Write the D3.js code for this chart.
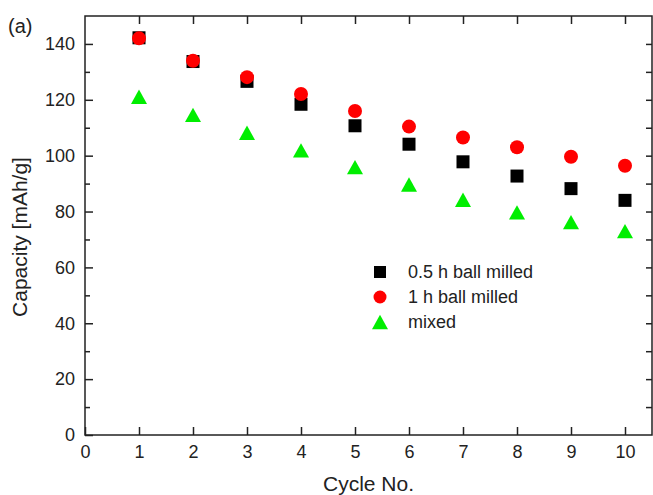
<!DOCTYPE html>
<html>
<head>
<meta charset="utf-8">
<script src="https://cdn.jsdelivr.net/npm/d3@7"></script>
<style>
  body { margin: 0; background: #fff; }
  text { font-family: "Liberation Sans", Arial, sans-serif; fill: #222; }
</style>
</head>
<body>
<div id="content"></div>
<script>
// data
var cycles = [1, 2, 3, 4, 5, 6, 7, 8, 9, 10];
var milled05 = [142.2, 133.7, 126.6, 118.4, 110.7, 104.1, 97.8, 92.7, 88.2, 84.0];
var milled1 = [142.0, 134.0, 128.1, 122.1, 116.0, 110.4, 106.5, 103.0, 99.6, 96.4];
var mixed = [121.1, 114.6, 108.2, 101.9, 95.9, 89.7, 84.2, 79.7, 76.2, 73.0];
var seriesNames = ["0.5 h ball milled", "1 h ball milled", "mixed"];
var xTicks = [0, 1, 2, 3, 4, 5, 6, 7, 8, 9, 10];
var yTicks = [0, 20, 40, 60, 80, 100, 120, 140];

var W = 653, H = 495;
var margin = {top: 16, right: 1, bottom: 60, left: 85};
var width = W - margin.left - margin.right,
    height = H - margin.top - margin.bottom;

var svg = d3.select("#content")
  .append("svg")
  .attr("width", W)
  .attr("height", H);

var g = svg.append("g")
  .attr("transform", "translate(" + margin.left + "," + margin.top + ")");

var x = d3.scaleLinear().domain([0, 10.5]).range([0, width]);
var y = d3.scaleLinear().domain([0, 150]).range([height, 0]);

// bottom axis, ticks pointing in
g.append("g")
  .attr("transform", "translate(0," + height + ")")
  .call(d3.axisBottom(x).tickValues(xTicks).tickSizeInner(-8).tickSizeOuter(0).tickPadding(10))
  .call(a => a.select(".domain").remove())
  .call(a => a.attr("font-size", 18).attr("font-family", null));

// top axis, ticks only
g.append("g")
  .call(d3.axisTop(x).tickValues(xTicks.slice(1)).tickSizeInner(-8).tickSizeOuter(0).tickFormat(""))
  .call(a => a.select(".domain").remove());

// left axis major + minor
g.append("g")
  .call(d3.axisLeft(y).tickValues(yTicks).tickSizeInner(-8).tickSizeOuter(0).tickPadding(10))
  .call(a => a.select(".domain").remove())
  .call(a => a.attr("font-size", 18).attr("font-family", null));

g.append("g")
  .call(d3.axisLeft(y).tickValues(d3.range(10, 150, 20)).tickSizeInner(-5).tickSizeOuter(0).tickFormat(""))
  .call(a => a.select(".domain").remove());

// right axis, ticks only
g.append("g")
  .attr("transform", "translate(" + width + ",0)")
  .call(d3.axisRight(y).tickValues(d3.range(10, 150, 10)).tickSizeInner(-6).tickSizeOuter(0).tickFormat(""))
  .call(a => a.select(".domain").remove());

g.selectAll(".tick line").attr("stroke", "#222").attr("stroke-width", 1.5);

// frame
g.append("rect")
  .attr("width", width)
  .attr("height", height)
  .attr("fill", "none")
  .attr("stroke", "#222")
  .attr("stroke-width", 1.5);

// markers
var sq = 13, r = 7;
var triPath = "M0,-7.2L8,7.2L-8,7.2Z";

g.selectAll(".sq")
  .data(cycles)
  .join("rect")
  .attr("class", "sq")
  .attr("x", (d, i) => x(d) - sq / 2)
  .attr("y", (d, i) => y(milled05[i]) - sq / 2)
  .attr("width", sq)
  .attr("height", sq)
  .attr("fill", "#000");

g.selectAll(".circ")
  .data(cycles)
  .join("circle")
  .attr("class", "circ")
  .attr("cx", (d) => x(d))
  .attr("cy", (d, i) => y(milled1[i]))
  .attr("r", r)
  .attr("fill", "#ff0000");

g.selectAll(".tri")
  .data(cycles)
  .join("path")
  .attr("class", "tri")
  .attr("d", triPath)
  .attr("transform", (d, i) => "translate(" + x(d) + "," + y(mixed[i]) + ")")
  .attr("fill", "#00ee00");

// legend
var lx = 380, ly = 272, lstep = 25;
var legend = svg.append("g");
legend.append("rect")
  .attr("x", lx - 6).attr("y", ly - 6).attr("width", 12).attr("height", 12)
  .attr("fill", "#000");
legend.append("circle")
  .attr("cx", lx).attr("cy", ly + lstep).attr("r", 6.5)
  .attr("fill", "#ff0000");
legend.append("path")
  .attr("d", triPath)
  .attr("transform", "translate(" + lx + "," + (ly + 2 * lstep) + ")")
  .attr("fill", "#00ee00");
legend.selectAll(".ltext")
  .data(seriesNames)
  .join("text")
  .attr("class", "ltext")
  .attr("x", lx + 28)
  .attr("y", (d, i) => ly + i * lstep + 6)
  .attr("font-size", 18)
  .text((d) => d);

// axis titles
svg.append("text")
  .attr("x", margin.left + x(5.25))
  .attr("y", 491)
  .attr("text-anchor", "middle")
  .attr("font-size", 21)
  .text("Cycle No.");

svg.append("text")
  .attr("transform", "translate(27," + 237 + ") rotate(-90)")
  .attr("text-anchor", "middle")
  .attr("font-size", 21)
  .text("Capacity [mAh/g]");

svg.append("text")
  .attr("x", 8)
  .attr("y", 33)
  .attr("font-size", 20)
  .text("(a)");
</script>
</body>
</html>
